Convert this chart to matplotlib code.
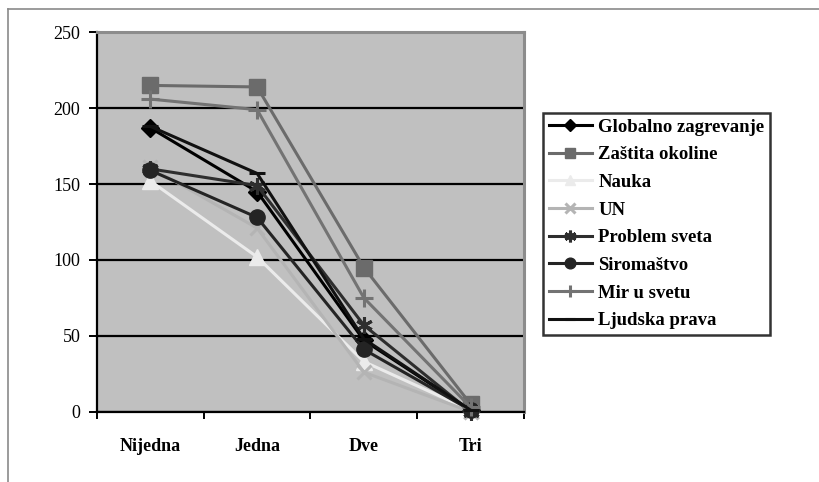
"""Excel-style line chart: answers per category (Nijedna..Tri)."""

import matplotlib

matplotlib.use("Agg")

import matplotlib.pyplot as plt
from matplotlib.lines import Line2D
from matplotlib.ticker import FixedLocator

categories = ["Nijedna", "Jedna", "Dve", "Tri"]

globalno_zagrevanje = [187, 145, 47, 1]
zastita_okoline = [215, 214, 95, 5]
nauka = [152, 102, 33, 1]
un = [161, 121, 26, 0]
problem_sveta = [160, 149, 57, 0]
siromastvo = [159, 128, 41, 1]
mir_u_svetu = [206, 199, 75, 3]
ljudska_prava = [188, 157, 48, 1]

y_ticks = [0, 50, 100, 150, 200, 250]

series = [
    ("Globalno zagrevanje", globalno_zagrevanje, "#000000", "D", 9),
    ("Zaštita okoline", zastita_okoline, "#6b6b6b", "s", 11),
    ("Nauka", nauka, "#ebebeb", "^", 11),
    ("UN", un, "#b4b4b4", "x", 10),
    ("Problem sveta", problem_sveta, "#2e2e2e", (6, 2, 0), 12),
    ("Siromaštvo", siromastvo, "#242424", "o", 11),
    ("Mir u svetu", mir_u_svetu, "#737373", "+", 13),
    ("Ljudska prava", ljudska_prava, "#111111", "_", 11),
]

serif = ["Liberation Serif", "DejaVu Serif"]

fig = plt.figure(figsize=(8.2, 4.82), dpi=100)
fig.patch.set_facecolor("white")

# outer chart-area frame (only top and left visible in the crop)
fig.add_artist(Line2D([8 / 820, 1.0], [1 - 9 / 482] * 2, color="#8a8a8a", lw=1.2))
fig.add_artist(Line2D([8 / 820] * 2, [0.0, 1 - 9 / 482], color="#8a8a8a", lw=1.2))

ax = fig.add_axes([97 / 820, 1 - 411.7 / 482, (524 - 97) / 820, (411.7 - 32.3) / 482])
ax.set_facecolor("#c0c0c0")

x = list(range(len(categories)))
handles = []
for name, vals, color, marker, ms in series:
    mew = 2.2 if marker in ("x", "+", "_") or isinstance(marker, tuple) else 1.0
    (ln,) = ax.plot(
        x,
        vals,
        color=color,
        linewidth=2.2,
        marker=marker,
        markersize=ms,
        markerfacecolor=color,
        markeredgecolor=color,
        markeredgewidth=mew,
        label=name,
        zorder=3,
        clip_on=False,
    )
    handles.append(ln)

ax.set_xlim(-0.5, 3.5)
ax.set_ylim(0, 250)
ax.set_yticks(y_ticks)
ax.set_yticklabels([str(v) for v in y_ticks], family=serif, fontsize=13)
ax.yaxis.grid(True, color="black", linewidth=1.6, zorder=1)
ax.set_axisbelow(True)

ax.set_xticks(x)
ax.set_xticklabels(categories, family=serif, fontsize=13, fontweight="bold")
ax.xaxis.set_minor_locator(FixedLocator([-0.5, 0.5, 1.5, 2.5, 3.5]))
ax.tick_params(axis="x", which="major", length=0, pad=19)
ax.tick_params(axis="x", which="minor", length=5, width=1.4, direction="out", color="black")
ax.tick_params(axis="y", which="major", length=6, width=1.4, direction="out", color="black", pad=6)

ax.spines["left"].set_color("black")
ax.spines["left"].set_linewidth(1.6)
ax.spines["bottom"].set_color("black")
ax.spines["bottom"].set_linewidth(1.6)
ax.spines["top"].set_color("#8c8c8c")
ax.spines["top"].set_linewidth(2.2)
ax.spines["right"].set_color("#8c8c8c")
ax.spines["right"].set_linewidth(2.2)

leg = fig.legend(
    handles=handles,
    loc="upper left",
    bbox_to_anchor=(543 / 820, 1 - 113 / 482),
    prop={"family": serif, "size": 13.5, "weight": "bold"},
    frameon=True,
    fancybox=False,
    edgecolor="black",
    handlelength=2.3,
    handletextpad=0.35,
    labelspacing=0.56,
    borderpad=0.3,
    borderaxespad=0.0,
    markerscale=0.7,
)
leg.get_frame().set_linewidth(1.8)

fig.savefig("out.png", dpi=100, facecolor=fig.get_facecolor())
